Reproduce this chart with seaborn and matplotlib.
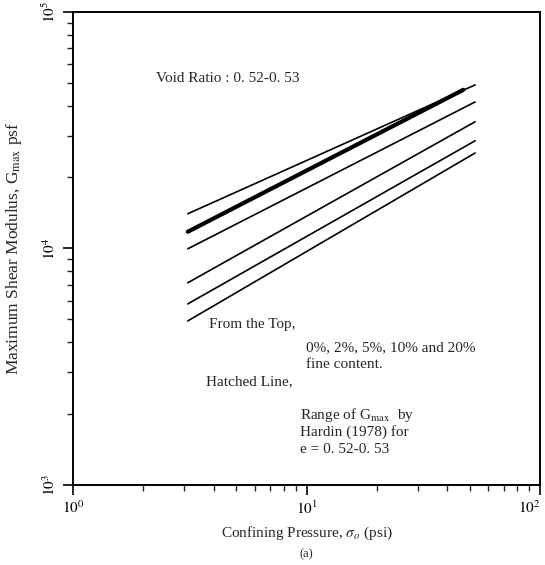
import numpy as np
import pandas as pd
import matplotlib
matplotlib.use("Agg")
import matplotlib.pyplot as plt
import seaborn as sns

# Data (confining pressure in psi, Gmax in psf)
fines_labels = ["0%", "2%", "5%", "10%", "20%"]
pressure = [3.1, 52.7]
gmax_0 = [14000, 49100]
gmax_2 = [9950, 41600]
gmax_5 = [7150, 34300]
gmax_10 = [5820, 28500]
gmax_20 = [4930, 25300]
hardin_pressure = [3.1, 46.9]
hardin_gmax = [11750, 46800]
x_ticks = [1, 10, 100]
x_tick_labels = [r"$10^0$", r"$10^1$", r"$10^2$"]
y_ticks = [1e3, 1e4, 1e5]
y_tick_labels = [r"$10^3$", r"$10^4$", r"$10^5$"]

sns.set_theme(style="ticks")
plt.rcParams['font.family'] = ['Liberation Serif', 'DejaVu Serif']
plt.rcParams['mathtext.fontset'] = 'stix'

rows = []
for lab, vals in zip(fines_labels, [gmax_0, gmax_2, gmax_5, gmax_10, gmax_20]):
    for p, g in zip(pressure, vals):
        rows.append({"fines": lab, "pressure": p, "gmax": g})
df = pd.DataFrame(rows)
hardin = pd.DataFrame({"pressure": hardin_pressure, "gmax": hardin_gmax})

fig = plt.figure(figsize=(5.45, 5.65), dpi=100)
ax = fig.add_axes([0.134, 0.142, 0.857, 0.837])

sns.lineplot(data=df, x="pressure", y="gmax", units="fines", estimator=None,
             color="black", linewidth=1.2, ax=ax, legend=False)
sns.lineplot(data=hardin, x="pressure", y="gmax", color="black",
             linewidth=3.0, ax=ax, legend=False)

ax.set_xscale("log")
ax.set_yscale("log")
ax.set_xlim(1, 100)
ax.set_ylim(1e3, 1e5)
ax.set_xticks(x_ticks, labels=x_tick_labels)
ax.set_yticks(y_ticks, labels=y_tick_labels)

for s in ax.spines.values():
    s.set_linewidth(1.4)
    s.set_color("black")
ax.tick_params(axis="both", which="major", direction="out", length=7, width=1.2,
               labelsize=11, colors="black", top=False, right=False)
ax.tick_params(axis="both", which="minor", direction="out", length=4, width=1.0,
               top=False, right=False)
for lbl in ax.get_yticklabels():
    lbl.set_rotation(90)
    lbl.set_va("center")
ax.get_xticklabels()[-1].set_ha("right")

ax.set_xlabel(r"Confining Pressure, $\sigma_o$ (psi)", fontsize=11, labelpad=6)
ax.set_ylabel(r"Maximum Shear Modulus, G$_{\rm max}$ psf", fontsize=12.5, labelpad=12)
ax.text(0.5, -0.148, "(a)", transform=ax.transAxes, ha="center", va="center",
        fontsize=9)

fs = 11
ax.text(0.177, 0.860, "Void Ratio : 0. 52-0. 53", transform=ax.transAxes,
        fontsize=fs, va="center", ha="left")
ax.text(0.291, 0.338, "From the Top,", transform=ax.transAxes,
        fontsize=fs, va="center", ha="left")
ax.text(0.498, 0.290, "0%, 2%, 5%, 10% and 20%", transform=ax.transAxes,
        fontsize=fs, va="center", ha="left")
ax.text(0.498, 0.254, "fine content.", transform=ax.transAxes,
        fontsize=fs, va="center", ha="left")
ax.text(0.284, 0.218, "Hatched Line,", transform=ax.transAxes,
        fontsize=fs, va="center", ha="left")
ax.text(0.487, 0.148, r"Range of G$_{\rm max}$  by", transform=ax.transAxes,
        fontsize=fs, va="center", ha="left")
ax.text(0.487, 0.112, "Hardin (1978) for", transform=ax.transAxes,
        fontsize=fs, va="center", ha="left")
ax.text(0.487, 0.074, "e = 0. 52-0. 53", transform=ax.transAxes,
        fontsize=fs, va="center", ha="left")

fig.savefig("out.png", dpi=100, facecolor="white")
